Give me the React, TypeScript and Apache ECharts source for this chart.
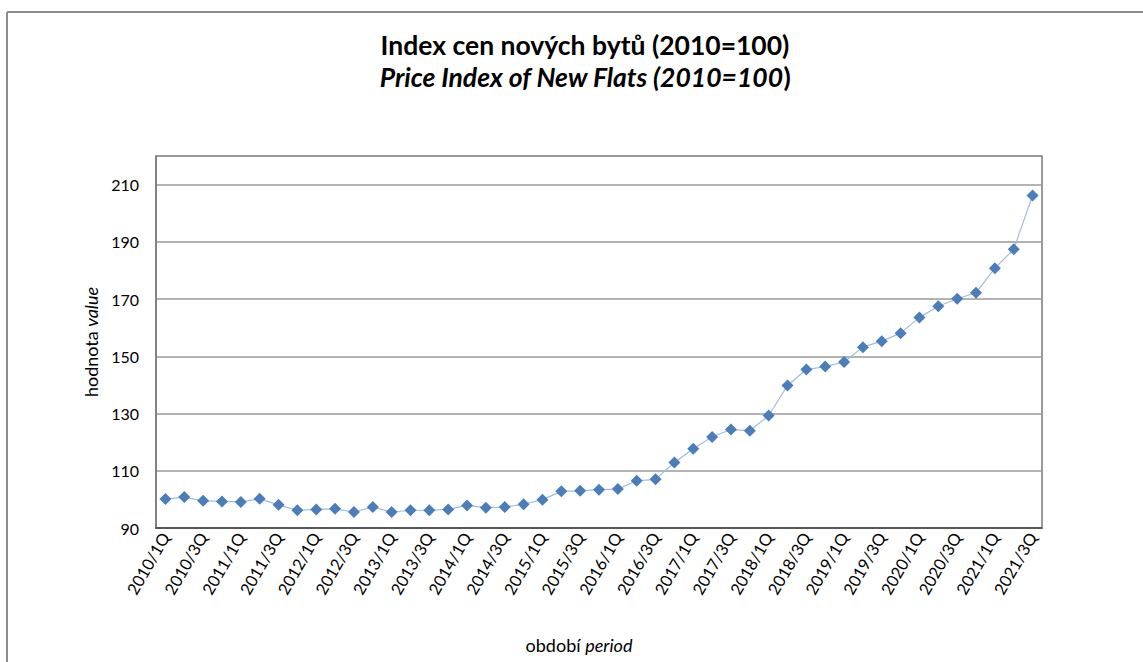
import React, { useEffect, useRef } from "react";
import * as echarts from "echarts";

const years = ["2010","2011","2012","2013","2014","2015","2016","2017","2018","2019","2020","2021"];
const quarters = ["1Q","2Q","3Q","4Q"];
const periods: string[] = [];
years.forEach((y) => quarters.forEach((q) => periods.push(`${y}/${q}`)));
periods.splice(47);

const indexValues = [
  100.1, 100.8, 99.5, 99.3, 99.1, 100.2, 98.1, 96.2, 96.5, 96.7,
  95.6, 97.3, 95.6, 96.2, 96.2, 96.5, 97.9, 97.1, 97.3, 98.3,
  99.9, 102.8, 103.0, 103.4, 103.6, 106.5, 107.0, 112.9, 117.7, 121.8,
  124.4, 124.0, 129.3, 139.8, 145.4, 146.4, 148.0, 153.2, 155.3, 158.1,
  163.6, 167.5, 170.1, 172.2, 180.8, 187.4, 206.2,
];

const titleCz = "Index cen nových bytů (2010=100)";
const titleEnItalic = "Price Index of New Flats (2010=100";
const FONT = "Lato, 'Liberation Sans', sans-serif";

export default function App() {
  const ref = useRef<HTMLDivElement>(null);
  useEffect(() => {
    if (!ref.current) return;
    const chart = echarts.init(ref.current, null, { renderer: "svg" });
    chart.setOption({
      animation: false,
      backgroundColor: "#ffffff",
      textStyle: { fontFamily: FONT },
      title: {
        left: 580,
        textAlign: "center",
        top: 24,
        text: `{b|${titleCz}}\n{bi|${titleEnItalic}}{b|)}`,
        textStyle: {
          rich: {
            b: { fontFamily: FONT, fontSize: 26.5, fontWeight: "bold", color: "#000", lineHeight: 32 },
            bi: { fontFamily: FONT, fontSize: 26.5, fontWeight: "bold", fontStyle: "italic", color: "#000", lineHeight: 32 },
          },
        },
      },
      graphic: [
        { type: "line", shape: { x1: 7, y1: 12, x2: 1143, y2: 12 }, style: { stroke: "#8c8c8c", lineWidth: 2 } },
        { type: "line", shape: { x1: 7, y1: 12, x2: 7, y2: 662 }, style: { stroke: "#8c8c8c", lineWidth: 2 } },
      ],
      grid: {
        left: 156, top: 156, right: 101, bottom: 134,
        show: true, borderColor: "#7a7a7a", borderWidth: 1.5, backgroundColor: "transparent",
      },
      xAxis: {
        type: "category",
        data: periods,
        boundaryGap: true,
        name: "{n|období }{i|period}",
        nameLocation: "middle",
        nameGap: 108,
        nameTextStyle: {
          padding: [0, 40, 0, 0],
          rich: {
            n: { fontFamily: FONT, fontSize: 18, color: "#000" },
            i: { fontFamily: FONT, fontSize: 18, fontStyle: "italic", color: "#000" },
          },
        },
        axisLine: { lineStyle: { color: "#404040", width: 1.5 } },
        axisTick: { show: false },
        axisLabel: { interval: 1, rotate: 60, fontSize: 16.5, color: "#000", margin: 6, fontFamily: FONT },
        splitLine: { show: false },
      },
      yAxis: {
        type: "value",
        min: 90,
        max: 220,
        interval: 20,
        name: "{n|hodnota }{i|value}",
        nameLocation: "middle",
        nameGap: 54,
        nameRotate: 90,
        nameTextStyle: {
          rich: {
            n: { fontFamily: FONT, fontSize: 18, color: "#000" },
            i: { fontFamily: FONT, fontSize: 18, fontStyle: "italic", color: "#000" },
          },
        },
        axisLine: { show: true, lineStyle: { color: "#7a7a7a", width: 1.5 } },
        axisTick: { show: false },
        axisLabel: { fontSize: 16, color: "#000", margin: 17, showMaxLabel: false, fontFamily: FONT },
        splitLine: { lineStyle: { color: "#9a9a9a", width: 1.5 } },
      },
      series: [
        {
          type: "line",
          data: indexValues,
          symbol: "diamond",
          symbolSize: 12,
          itemStyle: { color: "#4a7ebb" },
          lineStyle: { color: "#9fbbe2", width: 1.2 },
        },
      ],
    });
    return () => chart.dispose();
  }, []);
  return (
    <div
      ref={ref}
      style={{ position: "fixed", left: 0, top: 0, width: 1143, height: 662 }}
    />
  );
}
